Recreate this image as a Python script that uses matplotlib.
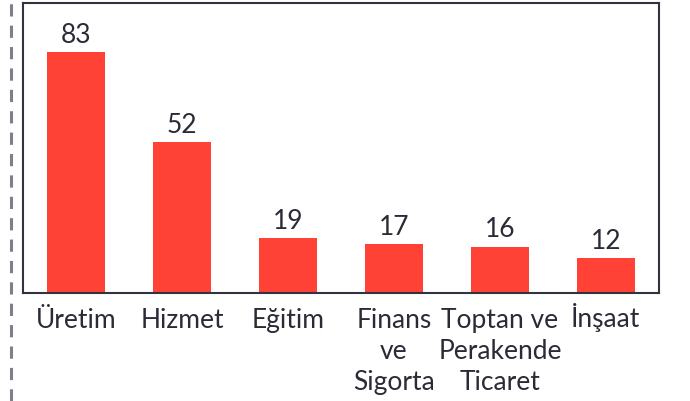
import matplotlib.pyplot as plt
from matplotlib.lines import Line2D
from matplotlib.transforms import ScaledTranslation

# Sektörlere göre dağılım
sectors = ["Üretim", "Hizmet", "Eğitim", "Finans\nve\nSigorta",
           "Toptan ve\nPerakende\nTicaret", "İnşaat"]
counts = [83, 52, 19, 17, 16, 12]

text_color = "#2b2b38"
bar_color = "#ff4136"

plt.rcParams['font.family'] = ['Lato', 'DejaVu Sans']

fig = plt.figure(figsize=(6.9, 4.01), dpi=100)
ax = fig.add_axes([23 / 690, 1 - 293 / 401, 636 / 690, 290 / 401])

xs = range(len(sectors))
ax.bar(xs, counts, width=0.55, color=bar_color)
for x, v in zip(xs, counts):
    ax.annotate(str(v), (x, v), xytext=(0, 3), textcoords='offset points',
                ha='center', va='bottom', fontsize=19, color=text_color)

ax.set_xlim(-0.5, len(sectors) - 0.5)
ax.set_ylim(0, 100)
ax.set_yticks([])
ax.set_xticks(list(xs))
ax.set_xticklabels(sectors, fontsize=19, color=text_color, linespacing=1.3)
ax.tick_params(axis='x', length=0, pad=11)

# İ'nin noktası etiketi aşağı itiyor, biraz yukarı al
lbl = ax.get_xticklabels()[-1]
lbl.set_transform(lbl.get_transform() + ScaledTranslation(0, 4 / 72, fig.dpi_scale_trans))

for s in ax.spines.values():
    s.set_color("#333340")
    s.set_linewidth(1.5)

# kesikli çizgi sol kenarda
fig.add_artist(Line2D([11 / 690, 11 / 690], [0, 1], color="#7e7e8c",
                      linewidth=2.2, linestyle=(0, (4, 3))))

fig.savefig("out.png", dpi=100)
